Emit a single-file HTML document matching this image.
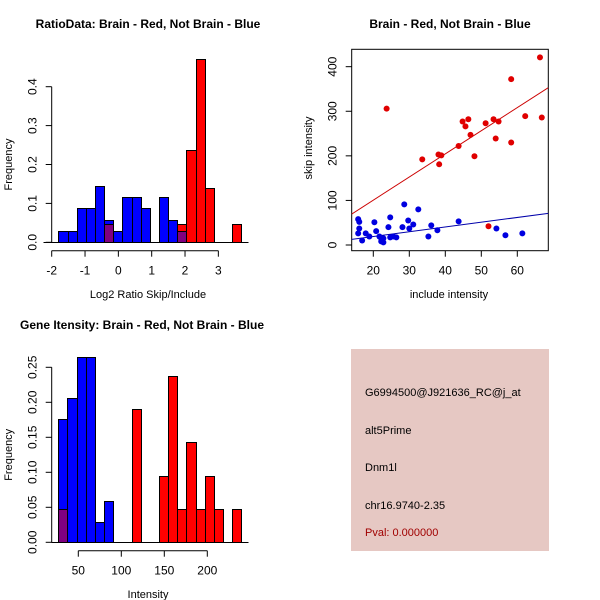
<!DOCTYPE html>
<html><head><meta charset="utf-8"><style>
html,body{margin:0;padding:0;background:#fff}
svg{display:block;font-family:"Liberation Sans",sans-serif}
</style></head><body>
<svg id="c" width="600" height="600" viewBox="0 0 600 600">
<rect width="600" height="600" fill="#fff"/>
<g id="p1"></g>
<g id="p2"></g>
<g id="p3"></g>
<g id="p4">
<rect x="351" y="349" width="198" height="202" fill="#e6c8c3"/>
<text x="365" y="396" font-size="11" fill="#000">G6994500@J921636_RC@j_at</text>
<text x="365" y="434" font-size="11" fill="#000">alt5Prime</text>
<text x="365" y="471" font-size="11" fill="#000">Dnm1l</text>
<text x="365" y="509" font-size="11" fill="#000">chr16.9740-2.35</text>
<text x="365" y="536" font-size="11" fill="#a00000">Pval: 0.000000</text>
</g>
</svg>
<script>
// ---- Panel 1 data ----
const h1Start = -1.8, h1Width = 0.2745;
const h1Blue = [0.028,0.028,0.087,0.087,0.146,0.058,0.028,0.117,0.117,0.087,0,0.117,0.058,0.028,0,0,0,0,0,0];
const h1Red  = [0,0,0,0,0,0.046,0,0,0,0,0,0,0,0.046,0.236,0.472,0.14,0,0,0.046];
const h1XTicks = [-2,-1,0,1,2,3];
const h1YTicks = [0,0.1,0.2,0.3,0.4];
// ---- Panel 2 data ----
const redX = [23.7,33.6,38.1,38.9,38.3,43.7,44.8,45.6,46.4,47.0,48.1,51.2,53.4,54.8,54.0,58.3,58.3,62.2,66.3,66.8,52.0];
const redY = [306,192,203,201,181,222,277,266,282,247,199,273,282,277,239,372,230,289,421,286,42];
const blueX = [15.8,16.1,16.1,15.8,16.9,17.9,18.9,20.3,20.8,21.7,22.2,22.2,22.8,22.8,24.2,24.7,24.7,25.6,26.4,28.1,28.6,29.7,30.0,31.1,32.5,35.3,36.1,37.8,43.7,54.2,56.7,61.4];
const blueY = [58,52,37,26,10,26,19,51,31,19,15,8,6,15,40,62,17,19,17,40,91,55,37,46,80,19,44,33,53,37,22,26];
const redFit = [-3.2,5.19];
const blueFit = [-2.3,1.068];
const sXTicks = [20,30,40,50,60];
const sYTicks = [0,100,200,300,400];
// ---- Panel 3 data ----
const h3Start = 26.7, h3Width = 10.65;
const h3Blue = [0.176,0.206,0.265,0.265,0.029,0.059,0,0,0,0,0,0,0,0,0,0,0,0,0,0];
const h3Red  = [0.047,0,0,0,0,0,0,0,0.19,0,0,0.095,0.238,0.047,0.143,0.047,0.095,0.047,0,0.047];
const h3XTicks = [50,100,150,200];
const h3YTicks = [0,0.05,0.10,0.15,0.20,0.25];

const NS="http://www.w3.org/2000/svg";
function mk(parent,tag,attrs,text){const e=document.createElementNS(NS,tag);for(const k in attrs)e.setAttribute(k,attrs[k]);if(text!==undefined)e.textContent=text;parent.appendChild(e);return e;}
const R0=v=>Math.round(v)+0.5;

function hist(g,start,width,blue,red,xs,ys,xt,yt,yfmt,base,axY,lineX0,lineX1,title,titleX,titleY,xlab,xlabY,xlabX){
  for(let i=0;i<blue.length;i++){
    const x0=R0(xs(start+i*width)), x1=R0(xs(start+(i+1)*width));
    const b=blue[i], r=red[i], m=Math.min(b,r);
    const y0=R0(ys(0));
    if(b>0){const e=mk(g,'rect',{x:x0,y:R0(ys(b)),width:x1-x0,height:y0-R0(ys(b)),fill:'#0000ff',stroke:'#000','stroke-width':1,'shape-rendering':'crispEdges'});
      
      }
    if(r>0){const e=mk(g,'rect',{x:x0,y:R0(ys(r)),width:x1-x0,height:y0-R0(ys(r)),fill:'#ff0000',stroke:'#000','stroke-width':1,'shape-rendering':'crispEdges'});
      
      }
    if(m>0){const e=mk(g,'rect',{x:x0,y:R0(ys(m)),width:x1-x0,height:y0-R0(ys(m)),fill:'#800080',stroke:'#000','stroke-width':1,'shape-rendering':'crispEdges'});
      
      }
  }
  const bl=mk(g,'line',{x1:lineX0,x2:lineX1,y1:R0(ys(0)),y2:R0(ys(0)),stroke:'#000','shape-rendering':'crispEdges'});
  
  
  const xa=mk(g,'g',{});
  
  
  mk(xa,'line',{x1:xs(xt[0]),x2:xs(xt[xt.length-1]),y1:axY,y2:axY,stroke:'#000'});
  xt.forEach(v=>{mk(xa,'line',{x1:xs(v),x2:xs(v),y1:axY,y2:axY+6,stroke:'#000'});
    const t=mk(xa,'text',{x:xs(v),y:axY+24,'text-anchor':'middle','font-size':12},String(v));
    
    });
  const ya=mk(g,'g',{});
  
  
  const axX=base;
  mk(ya,'line',{x1:axX,x2:axX,y1:ys(yt[0]),y2:ys(yt[yt.length-1]),stroke:'#000'});
  yt.forEach(v=>{mk(ya,'line',{x1:axX-6,x2:axX,y1:ys(v),y2:ys(v),stroke:'#000'});
    const t=mk(ya,'text',{x:axX-15,y:ys(v),'text-anchor':'middle','font-size':12,transform:`rotate(-90 ${axX-15} ${ys(v)})`},yfmt(v));
    
    });
  const tt=mk(g,'text',{x:titleX,y:titleY,'text-anchor':'middle','font-size':12,'font-weight':'bold'},title);
  
  
  const xl=mk(g,'text',{x:xlabX,y:xlabY,'text-anchor':'middle','font-size':11},xlab);
  
  
  const yc=(ys(yt[0])+ys(yt[yt.length-1]))/2;
  const yl=mk(g,'text',{x:12,y:yc,'text-anchor':'middle','font-size':11,transform:`rotate(-90 12 ${yc})`},'Frequency');
  
  
}

const xs1=v=>51.7+(v+2)*33.33, ys1=v=>242.3-v*389;
hist(document.getElementById('p1'),h1Start,h1Width,h1Blue,h1Red,xs1,ys1,h1XTicks,h1YTicks,v=>v.toFixed(1),51.7,250.7,43.3,248.3,'RatioData: Brain - Red, Not Brain - Blue',148,28,'Log2 Ratio Skip/Include',298,148);
const xs3=v=>78.3+(v-50)*0.86, ys3=v=>542.3-v*700;
hist(document.getElementById('p3'),h3Start,h3Width,h3Blue,h3Red,xs3,ys3,h3XTicks,h3YTicks,v=>v.toFixed(2),51.7,550.7,51.7,248.3,'Gene Itensity: Brain - Red, Not Brain - Blue',142,329,'Intensity',598,148);

(function(){
  const g=document.getElementById('p2');
  const xs=v=>373.3+(v-20)*3.6, ys=v=>245-v*0.4458;
  const L=351.7,R=548.3,T=49.3,B=250.7;
  const box=mk(g,'rect',{x:L,y:T,width:R-L,height:B-T,fill:'none',stroke:'#000'});
  
  
  const cp=mk(g,'clipPath',{id:'clip2'});mk(cp,'rect',{x:L,y:T,width:R-L,height:B-T});
  const xmin=(L-373.3)/3.6+20, xmax=(R-373.3)/3.6+20;
  [[redFit,'#cc0000','red-fit-line'],[blueFit,'#0000aa','blue-fit-line']].forEach(([f,c,n])=>{
    const l=mk(g,'line',{x1:xs(xmin),x2:xs(xmax),y1:ys(f[0]+f[1]*xmin),y2:ys(f[0]+f[1]*xmax),stroke:c,'clip-path':'url(#clip2)'});
    
    
  });
  redX.forEach((x,i)=>{const p=mk(g,'circle',{cx:xs(x),cy:ys(redY[i]),r:3,fill:'#e00000'});
    
    });
  blueX.forEach((x,i)=>{const p=mk(g,'circle',{cx:xs(x),cy:ys(blueY[i]),r:3,fill:'#0000e0'});
    
    });
  sXTicks.forEach(v=>{mk(g,'line',{x1:xs(v),x2:xs(v),y1:B,y2:B+6,stroke:'#000'});
    const t=mk(g,'text',{x:xs(v),y:B+24,'text-anchor':'middle','font-size':12},String(v));
    
    });
  sYTicks.forEach(v=>{mk(g,'line',{x1:L-6,x2:L,y1:ys(v),y2:ys(v),stroke:'#000'});
    const t=mk(g,'text',{x:L-15,y:ys(v),'text-anchor':'middle','font-size':12,transform:`rotate(-90 ${L-15} ${ys(v)})`},String(v));
    
    });
  const tt=mk(g,'text',{x:450,y:28,'text-anchor':'middle','font-size':12,'font-weight':'bold'},'Brain - Red, Not Brain - Blue');
  
  
  const xl=mk(g,'text',{x:449,y:298,'text-anchor':'middle','font-size':11},'include intensity');
  
  
  const yl=mk(g,'text',{x:312,y:148,'text-anchor':'middle','font-size':11,transform:'rotate(-90 312 148)'},'skip intensity');
  
  
})();
</script>
</body></html>
